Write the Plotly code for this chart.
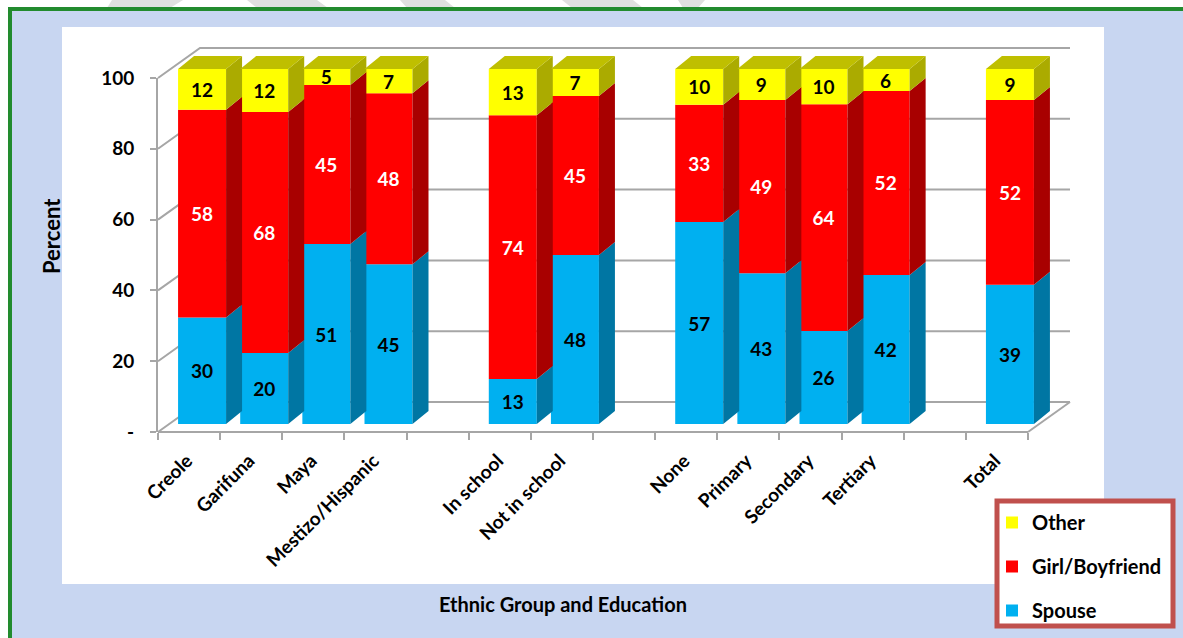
import plotly.graph_objects as go

W, H = 1183, 638

# ---------- data ----------
categories = ["Creole", "Garifuna", "Maya", "Mestizo/Hispanic", "In school", "Not in school",
              "None", "Primary", "Secondary", "Tertiary", "Total"]
slots = [0, 1, 2, 3, 5, 6, 8, 9, 10, 11, 13]
spouse = [30.0, 20.0, 50.7, 45.0, 12.7, 47.6, 56.9, 42.5, 26.2, 42.0, 39.2]
partner = [58.5, 67.9, 44.8, 48.2, 74.3, 44.8, 33.0, 48.8, 63.9, 51.8, 52.1]
other = [11.5, 12.1, 4.5, 6.8, 13.0, 7.6, 10.1, 8.7, 9.9, 6.2, 8.7]
spouse_labels = [30, 20, 51, 45, 13, 48, 57, 43, 26, 42, 39]
partner_labels = [58, 68, 45, 48, 74, 45, 33, 49, 64, 52, 52]
other_labels = [12, 12, 5, 7, 13, 7, 10, 9, 10, 6, 9]
y_ticks = [0, 20, 40, 60, 80, 100]
y_tick_labels = ["-", "20", "40", "60", "80", "100"]

FONT = "Lato, Carlito, Calibri, sans-serif"
AXIS = "#A6A6A6"

# ---------- geometry of the fake 3D box (pixels) ----------
AX_L, AX_R, AX_B, AX_T = 158, 1028, 432, 78
BAR_BASE = 424
SLOT = (AX_R - AX_L) / 14
UNIT = (AX_B - AX_T) / 100
BAR_UNIT = 3.55
shift = 13 / SLOT
bar_w = 48 / SLOT
face_dx = 16 / SLOT
face_dy = 13 / BAR_UNIT
wall_dx = 42 / SLOT
wall_dy = 30 / UNIT

fig = go.Figure()

# back wall and floor, behind the bars, on a hidden full-page overlay with the axis scale
wall_x, wall_y = [], []
for v in y_ticks:
    wall_x += [0, wall_dx, 14 + wall_dx, None]
    wall_y += [v, v + wall_dy, v + wall_dy, None]
wall_x += [14 + wall_dx, 14, None]
wall_y += [wall_dy, 0, None]
wall_x += [0, 14, None]
wall_y += [0, 0, None]
fig.add_trace(go.Scatter(x=wall_x, y=wall_y, mode="lines", hoverinfo="skip",
                         line=dict(color=AXIS, width=2), showlegend=False,
                         xaxis="x2", yaxis="y2"))

# bars and their side / top faces, on a second full-page overlay
xs = [s + 0.5 + shift for s in slots]
series = [("Spouse", spouse, spouse_labels, "#00B0F0", "#0076A3", "black", 3),
          ("Girl/Boyfriend", partner, partner_labels, "#FF0000", "#A80000", "white", 2),
          ("Other", other, other_labels, "#FFFF00", "#ABAB00", "black", 1)]

bottoms = [0.0] * len(xs)
for name, vals, labels, color, side, txt, rank in series:
    fig.add_trace(go.Bar(x=xs, y=vals, base=bottoms, width=bar_w, name=name, legendgroup=name,
                         legendrank=rank,
                         marker=dict(color=color, line=dict(width=0)),
                         text=[str(t) for t in labels], textposition="inside",
                         insidetextanchor="middle", textangle=0, constraintext="none",
                         insidetextfont=dict(color=txt, size=19, family=FONT, weight="bold"),
                         xaxis="x3", yaxis="y3"))
    px, py = [], []
    for x, b, v in zip(xs, bottoms, vals):
        r = x + bar_w / 2
        px += [r, r + face_dx, r + face_dx, r, r, None]
        py += [b, b + face_dy, b + v + face_dy, b + v, b, None]
    fig.add_trace(go.Scatter(x=px, y=py, mode="lines", fill="toself", fillcolor=side,
                             line=dict(width=0, color=side), hoverinfo="skip", showlegend=False,
                             legendgroup=name, xaxis="x3", yaxis="y3"))
    bottoms = [b + v for b, v in zip(bottoms, vals)]

tx, ty = [], []
for x, t in zip(xs, bottoms):
    l, r = x - bar_w / 2, x + bar_w / 2
    tx += [l, l + face_dx, r + face_dx, r, l, None]
    ty += [t, t + face_dy, t + face_dy, t, t, None]
fig.add_trace(go.Scatter(x=tx, y=ty, mode="lines", fill="toself", fillcolor="#BFBF00",
                         line=dict(width=0, color="#BFBF00"), hoverinfo="skip", showlegend=False,
                         xaxis="x3", yaxis="y3"))

# keeps the visible axes alive
fig.add_trace(go.Scatter(x=[0, 14], y=[0, 100], mode="markers", marker=dict(opacity=0, size=1),
                         hoverinfo="skip", showlegend=False, xaxis="x", yaxis="y"))


def rect(x0, y0, x1, y1, fill, line=None, lw=0):
    return dict(type="rect", xref="paper", yref="paper", layer="below",
                x0=x0 / W, x1=x1 / W, y0=1 - y0 / H, y1=1 - y1 / H,
                fillcolor=fill, line=dict(color=line or fill, width=lw))


def stripe(a, b, c, d):
    return dict(type="path", xref="paper", yref="paper", layer="below",
                path=f"M{a/W},1 L{b/W},1 L{c/W},{1-8/H} L{d/W},{1-8/H} Z",
                fillcolor="#E0E0E0", line=dict(width=0))


shapes = [stripe(112, 183, 170, 107), stripe(247, 317, 328, 257), stripe(400, 445, 455, 407),
          stripe(562, 633, 643, 572), stripe(678, 705, 698, 683),
          rect(10, 9, W + 5, H + 5, "#C8D6F1", "#228B2E", 4),
          rect(62, 27, 1104, 584, "white"),
          rect(997, 501, 1173, 626, "white", "#C0504D", 5)]

annotations = [
    dict(text="Ethnic Group and Education", xref="paper", yref="paper", x=563 / W, y=1 - 604 / H,
         showarrow=False, xanchor="center", yanchor="middle",
         font=dict(size=20, family=FONT, weight="bold", color="black")),
    dict(text="Percent", xref="paper", yref="paper", x=52 / W, y=1 - 236 / H, textangle=-90,
         showarrow=False, xanchor="center", yanchor="middle",
         font=dict(size=22, family=FONT, weight="bold", color="black")),
]

fig.update_layout(
    width=W, height=H, margin=dict(l=0, r=0, t=0, b=0), autosize=False,
    paper_bgcolor="white", plot_bgcolor="rgba(0,0,0,0)",
    font=dict(family=FONT, color="black"),
    barmode="overlay", shapes=shapes, annotations=annotations, showlegend=True,
    legend=dict(x=992 / W, y=1 - 503 / H, xanchor="left", yanchor="top",
                bgcolor="rgba(0,0,0,0)", borderwidth=0, traceorder="grouped",
                tracegroupgap=15, itemwidth=30,
                font=dict(size=20, family=FONT, weight="bold", color="black")),
    xaxis=dict(domain=[AX_L / W, AX_R / W], range=[0, 14], anchor="y", showgrid=False, zeroline=False,
               automargin=False,
               tickmode="array", tickvals=[s + 0.5 for s in slots], ticktext=categories,
               tickangle=-45, ticks="", showline=False, ticklabelstandoff=13, ticklabelshift=-2,
               tickfont=dict(size=19, family=FONT, weight="bold", color="black"),
               minor=dict(ticks="outside", dtick=1, tick0=0, ticklen=7, tickwidth=2, tickcolor=AXIS,
                          showgrid=False)),
    yaxis=dict(domain=[1 - AX_B / H, 1 - AX_T / H], range=[0, 100], anchor="x", showgrid=False,
               automargin=False,
               zeroline=False, tickmode="array", tickvals=y_ticks, ticktext=y_tick_labels,
               ticks="outside", ticklen=6, tickwidth=2, tickcolor=AXIS, showline=True,
               linecolor=AXIS, linewidth=2, ticklabelstandoff=12,
               tickfont=dict(size=19, family=FONT, weight="bold", color="black")),
    # full-page overlay with the same scale as the visible axes
    xaxis2=dict(domain=[0, 1], range=[-AX_L / SLOT, (W - AX_L) / SLOT], visible=False, anchor="y2",
                automargin=False),
    yaxis2=dict(domain=[0, 1], range=[(AX_B - H) / UNIT, AX_B / UNIT], visible=False, anchor="x2",
                automargin=False),
    # full-page overlay whose zero sits on the bar base
    xaxis3=dict(domain=[0, 1], range=[-AX_L / SLOT, (W - AX_L) / SLOT], visible=False, anchor="y3",
                automargin=False),
    yaxis3=dict(domain=[0, 1], range=[(BAR_BASE - H) / BAR_UNIT, BAR_BASE / BAR_UNIT],
                visible=False, anchor="x3", automargin=False),
)

fig.write_html("out.html", config=dict(displayModeBar=False),
               post_script="document.body.style.margin='0';document.body.style.overflow='hidden';")
